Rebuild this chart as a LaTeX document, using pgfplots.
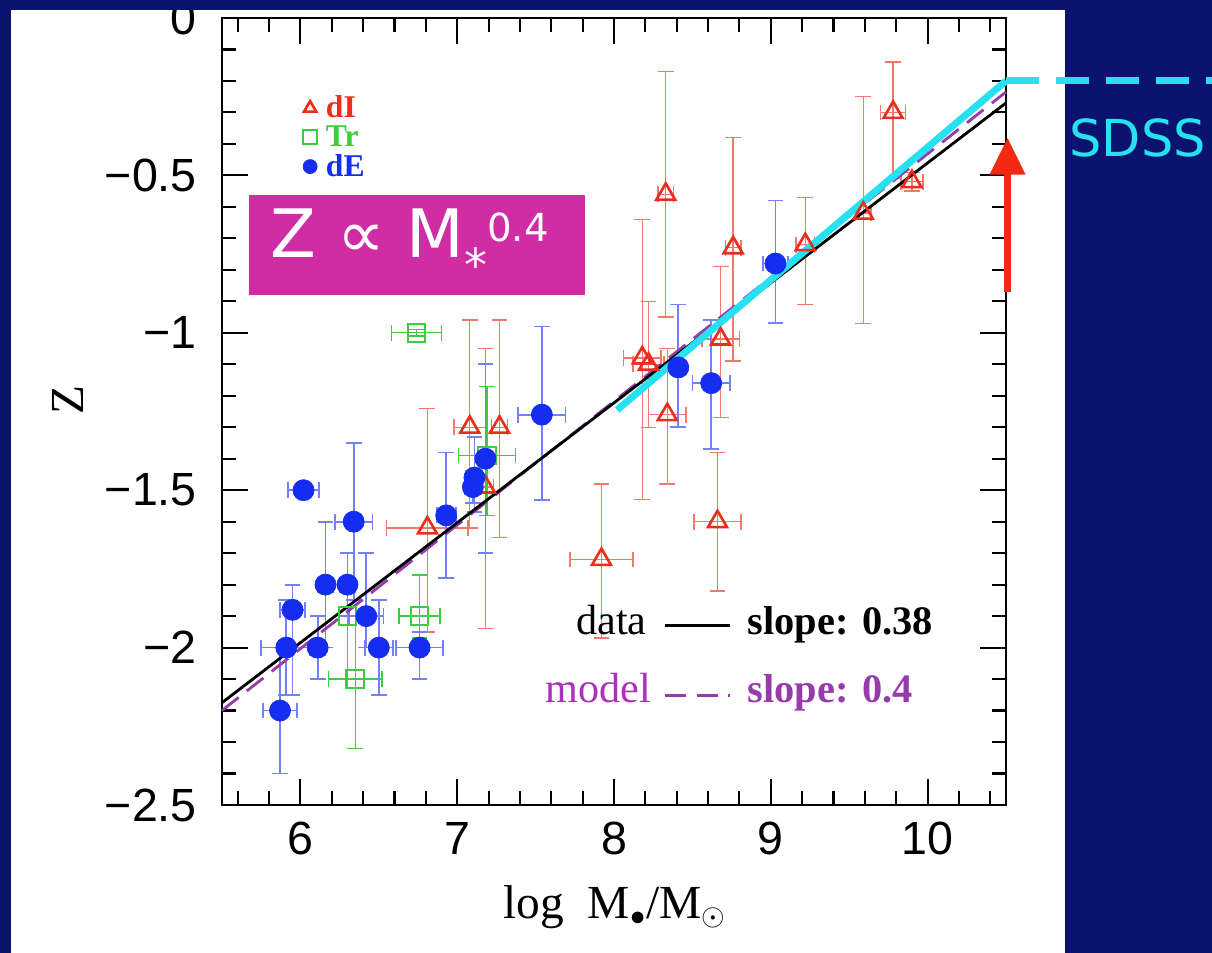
\documentclass[border=0pt]{standalone}
\usepackage{fontspec}
\setmainfont{Liberation Serif}
\setsansfont{Liberation Sans}
\newfontfamily\comic{DejaVu Sans}
\usepackage{pgfplots}
\pgfplotsset{compat=1.18}
\usepackage{pgfplotstable}
\usetikzlibrary{arrows.meta,backgrounds}

\definecolor{navy}{RGB}{10,20,112}
\definecolor{dIred}{RGB}{235,45,30}
\definecolor{trgreen}{RGB}{60,205,60}
\definecolor{deblue}{RGB}{20,45,240}
\definecolor{cyanl}{RGB}{40,225,240}
\definecolor{boxmag}{RGB}{208,45,165}
\definecolor{modpur}{RGB}{150,60,170}
\definecolor{arrred}{RGB}{245,40,20}

% dI galaxies: x y xerr yerr+ yerr-
\pgfplotstableread{
x    y     ex   ep   em
8.33 -0.56 0.05 0.39 0.39
9.78 -0.30 0.08 0.16 0.21
9.90 -0.52 0.07 0.03 0.03
8.76 -0.73 0.05 0.35 0.36
9.22 -0.72 0.06 0.15 0.19
9.59 -0.62 0.05 0.37 0.35
8.18 -1.08 0.12 0.44 0.45
8.22 -1.10 0.10 0.20 0.20
8.34 -1.26 0.12 0.21 0.22
8.68 -1.02 0.12 0.23 0.25
8.66 -1.60 0.15 0.22 0.22
7.92 -1.72 0.20 0.24 0.25
7.08 -1.30 0.10 0.34 0.32
7.27 -1.30 0.05 0.34 0.35
7.18 -1.49 0.05 0.44 0.45
6.81 -1.62 0.26 0.38 0.33
}\dItab

% transition types
\pgfplotstableread{
x    y     ex   ep   em
6.74 -1.00 0.16 0.01 0.01
7.19 -1.39 0.18 0.22 0.19
6.30 -1.90 0.05 0.20 0.20
6.76 -1.90 0.13 0.13 0.07
6.35 -2.10 0.17 0.20 0.22
}\Trtab

% dE galaxies
\pgfplotstableread{
x    y     ex   ep   em
6.02 -1.50 0.10 0.01 0.01
6.34 -1.60 0.12 0.25 0.25
6.93 -1.58 0.06 0.20 0.20
7.11 -1.46 0.05 0.13 0.11
7.10 -1.49 0.05 0.05 0.05
7.18 -1.40 0.03 0.30 0.30
7.54 -1.26 0.15 0.28 0.27
9.03 -0.78 0.08 0.20 0.19
8.41 -1.11 0.05 0.20 0.19
8.62 -1.16 0.12 0.20 0.21
5.95 -1.88 0.08 0.08 0.27
6.16 -1.80 0.05 0.20 0.20
6.30 -1.80 0.05 0.10 0.10
6.42 -1.90 0.11 0.20 0.10
5.91 -2.00 0.16 0.15 0.15
6.11 -2.00 0.05 0.10 0.10
6.50 -2.00 0.09 0.15 0.15
6.76 -2.00 0.15 0.05 0.10
5.87 -2.20 0.11 0.20 0.20
}\dEtab

\begin{document}
\begin{tikzpicture}
\begin{axis}[
  name=ax, at={(0,0)}, anchor=south west,
  scale only axis, width=15.68cm, height=15.74cm,
  xmin=5.5, xmax=10.5, ymin=-2.5, ymax=0,
  clip=false,
  xtick={6,7,8,9,10}, xticklabels={6,7,8,9,10},
  ytick={-2.5,-2,-1.5,-1,-0.5,0},
  yticklabels={−2.5,−2,−1.5,−1,−0.5,0},
  minor xtick={5.6,5.8,...,10.4},
  minor ytick={-2.4,-2.3,...,-0.1},
  tick align=inside,
  major tick length=0.52cm, minor tick length=0.28cm,
  axis line style={line width=1.3pt},
  every tick/.style={black, line width=1.2pt},
  tick label style={font=\sffamily\fontsize{26.5}{30}\selectfont},
  yticklabel style={xshift=-0.38cm},
  xticklabel style={yshift=-0.22cm},
  xlabel={log\ \ M$_{\bullet}$/M$_\odot$},
  ylabel={Z},
  label style={font=\fontsize{27}{32}\selectfont},
  xlabel style={at={(axis description cs:0.501,-0.13)}, anchor=center},
  ylabel style={at={(axis description cs:-0.196,0.515)}, anchor=center},
  legend style={at={(rel axis cs:0.103,0.906)}, anchor=north west,
    draw=none, fill=none, font=\bfseries\fontsize{18}{19}\selectfont,
    row sep=-1pt, column sep=3pt, inner sep=0pt},
  legend cell align=left,
  legend image post style={mark size=4pt},
  error bars/error mark=-,
]
\addplot[only marks, mark=triangle, mark size=6.2pt, draw=dIred,
  mark options={line width=1.5pt, fill=white},
  error bars/.cd, x dir=both, x explicit, y dir=both, y explicit,
  error bar style={dIred!65, line width=0.8pt},
  error mark options={rotate=90, dIred!65, line width=0.8pt, mark size=4.5pt}]
  table[x=x, y=y, x error=ex, y error plus=ep, y error minus=em] {\dItab};
\addlegendentry{\textcolor{dIred}{dI}}
\addplot[only marks, mark=square, mark size=5pt, draw=trgreen,
  mark options={line width=1.2pt, fill=white},
  error bars/.cd, x dir=both, x explicit, y dir=both, y explicit,
  error bar style={trgreen, line width=0.8pt},
  error mark options={rotate=90, trgreen, line width=0.8pt, mark size=4.5pt}]
  table[x=x, y=y, x error=ex, y error plus=ep, y error minus=em] {\Trtab};
\addlegendentry{\textcolor{trgreen}{Tr}}
\addplot[only marks, mark=*, mark size=6pt, deblue,
  error bars/.cd, x dir=both, x explicit, y dir=both, y explicit,
  error bar style={deblue!60, line width=1pt},
  error mark options={rotate=90, deblue!60, line width=1pt, mark size=4.5pt}]
  table[x=x, y=y, x error=ex, y error plus=ep, y error minus=em] {\dEtab};
\addlegendentry{\textcolor{deblue}{dE}}
% model fit (slope 0.4) and data fit (slope 0.38)
\addplot[modpur, line width=1.6pt, dash pattern=on 12pt off 6pt, forget plot]
  coordinates {(5.5,-2.20) (10.5,-0.235)};
\addplot[black, line width=1.6pt, forget plot]
  coordinates {(5.5,-2.175) (10.5,-0.27)};
% SDSS relation
\addplot[cyanl, line width=4pt, forget plot]
  coordinates {(8.02,-1.245) (10.5,-0.20)};
\addplot[cyanl, line width=4pt, dash pattern=on 0.66cm off 0.34cm, forget plot]
  coordinates {(10.5,-0.20) (11.82,-0.20)};
\draw[arrred, line width=4pt, -{Triangle[width=0.68cm, length=0.74cm]}]
  (axis cs:10.51,-0.87) -- (axis cs:10.51,-0.38);
\node[text=cyanl, font=\comic\fontsize{29}{34}\selectfont] at (axis cs:11.34,-0.381) {SDSS};
% Z ~ M^0.4 box
\node[fill=boxmag, minimum width=6.72cm, minimum height=2.0cm, anchor=north west,
  inner sep=0pt, text=white, font=\comic\fontsize{38}{44}\selectfont]
  at (axis cs:5.672,-0.5626)
  {Z ∝ M\raisebox{-0.65ex}{\fontsize{26}{30}\selectfont *}\raisebox{0.45ex}{\fontsize{22}{26}\selectfont 0.4}\hspace*{0.3cm}};
% fit annotations
\node[anchor=base east, inner sep=0pt, font=\fontsize{24}{28}\selectfont] at (axis cs:8.21,-1.958) {data};
\draw[black, line width=1.5pt] (axis cs:8.325,-1.929) -- (axis cs:8.74,-1.929);
\node[anchor=base west, inner sep=0pt, font=\bfseries\fontsize{23}{27}\selectfont] at (axis cs:8.85,-1.958) {slope: 0.38};
\node[anchor=base east, inner sep=0pt, text=modpur!80!magenta, font=\fontsize{24}{28}\selectfont] at (axis cs:8.24,-2.174) {model};
\draw[modpur, line width=1.5pt, dash pattern=on 12pt off 6pt] (axis cs:8.325,-2.152) -- (axis cs:8.74,-2.152);
\node[anchor=base west, inner sep=0pt, text=modpur, font=\bfseries\fontsize{23}{27}\selectfont] at (axis cs:8.85,-2.174) {slope: 0.4};
\end{axis}
\begin{scope}[on background layer]
  \fill[navy] (-4.44,-2.96) rectangle (19.8,16.1);
  \fill[white] (-4.22,-2.96) rectangle (16.86,15.9);
\end{scope}
\fill[navy] (-4.44,15.9) rectangle (19.8,16.1);
\pgfresetboundingbox
\useasboundingbox (-4.44,-2.96) rectangle (19.8,16.1);
\end{tikzpicture}
\end{document}
